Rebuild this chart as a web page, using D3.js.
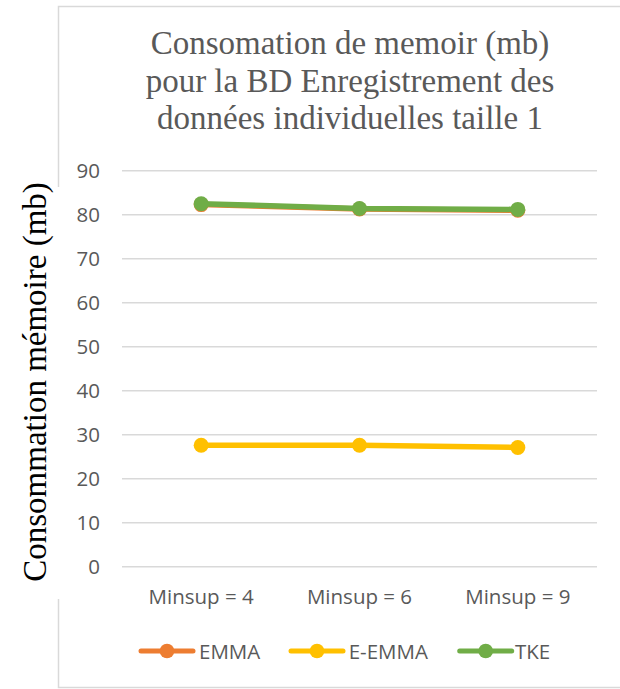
<!DOCTYPE html>
<html><head><meta charset="utf-8">
<script src="https://cdn.jsdelivr.net/npm/d3@7"></script>
<style>body{margin:0;background:#fff}svg{display:block}</style>
</head><body>
<svg id="c" width="620" height="689"></svg>
<script>
const categories = ["Minsup = 4", "Minsup = 6", "Minsup = 9"];
const seriesNames = ["EMMA", "E-EMMA", "TKE"];
const emma = [82.3, 81.3, 81.0];
const eemma = [27.6, 27.6, 27.1];
const tke = [82.5, 81.4, 81.2];
const yTicks = [0, 10, 20, 30, 40, 50, 60, 70, 80, 90];
const titleLines = ["Consomation de memoir (mb)", "pour la BD Enregistrement des", "données individuelles taille 1"];
const yTitle = "Consommation mémoire (mb)";
const colors = ["#ED7D31", "#FFC000", "#70AD47"];

const series = [emma, eemma, tke];
const svg = d3.select("#c");
const pLeft = 122, pRight = 597, pTop = 170.7, pBottom = 566.7;

// chart border
svg.append("path")
  .attr("d", "M58.5,187 V6.5 H640 M58.5,599 V687.5 H640")
  .attr("fill", "none").attr("stroke", "#d9d9d9").attr("stroke-width", 1.5);

const x = d3.scaleBand().domain(categories).range([pLeft, pRight]);
const y = d3.scaleLinear().domain([0, 90]).range([pBottom, pTop]);

// gridlines
svg.append("g").selectAll("line").data(yTicks).join("line")
  .attr("x1", pLeft).attr("x2", pRight)
  .attr("y1", d => y(d)).attr("y2", d => y(d))
  .attr("stroke", "#d9d9d9").attr("stroke-width", 1.5);

// y axis labels
const yAxis = d3.axisLeft(y).tickValues(yTicks).tickSize(0).tickPadding(22);
const gy = svg.append("g").attr("transform", `translate(${pLeft},0)`).call(yAxis);
gy.select(".domain").remove();
gy.selectAll("text").attr("font-family", "Open Sans").attr("font-size", 20.5).attr("fill", "#595959");

// x axis labels
const xAxis = d3.axisBottom(x).tickSize(0).tickPadding(23);
const gx = svg.append("g").attr("transform", `translate(0,${pBottom})`).call(xAxis);
gx.select(".domain").remove();
gx.selectAll("text").attr("font-family", "Open Sans").attr("font-size", 20.5).attr("fill", "#595959");

// lines
const line = d3.line().x((d, i) => x(categories[i]) + x.bandwidth() / 2).y(d => y(d));
series.forEach((s, k) => {
  svg.append("path").datum(s).attr("d", line)
    .attr("fill", "none").attr("stroke", colors[k]).attr("stroke-width", 5.5)
    .attr("stroke-linejoin", "round").attr("stroke-linecap", "round");
  svg.append("g").selectAll("circle").data(s).join("circle")
    .attr("cx", (d, i) => x(categories[i]) + x.bandwidth() / 2)
    .attr("cy", d => y(d)).attr("r", 7.5).attr("fill", colors[k]);
});

// title
svg.append("text").attr("x", 350).attr("font-family", "Liberation Serif").attr("font-size", 33)
  .attr("fill", "#595959").attr("text-anchor", "middle")
  .selectAll("tspan").data(titleLines).join("tspan")
  .attr("x", 350).attr("y", (d, i) => 54 + i * 37.7).text(d => d);

// y title
svg.append("text").attr("transform", "translate(46,382) rotate(-90)")
  .attr("font-family", "Liberation Serif").attr("font-size", 33).attr("fill", "#000")
  .attr("text-anchor", "middle").text(yTitle);

// legend
const legendItems = [{x: 139, tx: 199}, {x: 289, tx: 348.7}, {x: 457.7, tx: 515}];
const ly = 651;
seriesNames.forEach((n, k) => {
  const it = legendItems[k];
  svg.append("line").attr("x1", it.x + 2).attr("x2", it.x + 54).attr("y1", ly).attr("y2", ly)
    .attr("stroke", colors[k]).attr("stroke-width", 5).attr("stroke-linecap", "round");
  svg.append("circle").attr("cx", it.x + 28).attr("cy", ly).attr("r", 7.3).attr("fill", colors[k]);
  svg.append("text").attr("x", it.tx).attr("y", ly + 7.5).attr("font-family", "Open Sans")
    .attr("font-size", 20.5).attr("fill", "#595959").text(n);
});
</script>
</body></html>
